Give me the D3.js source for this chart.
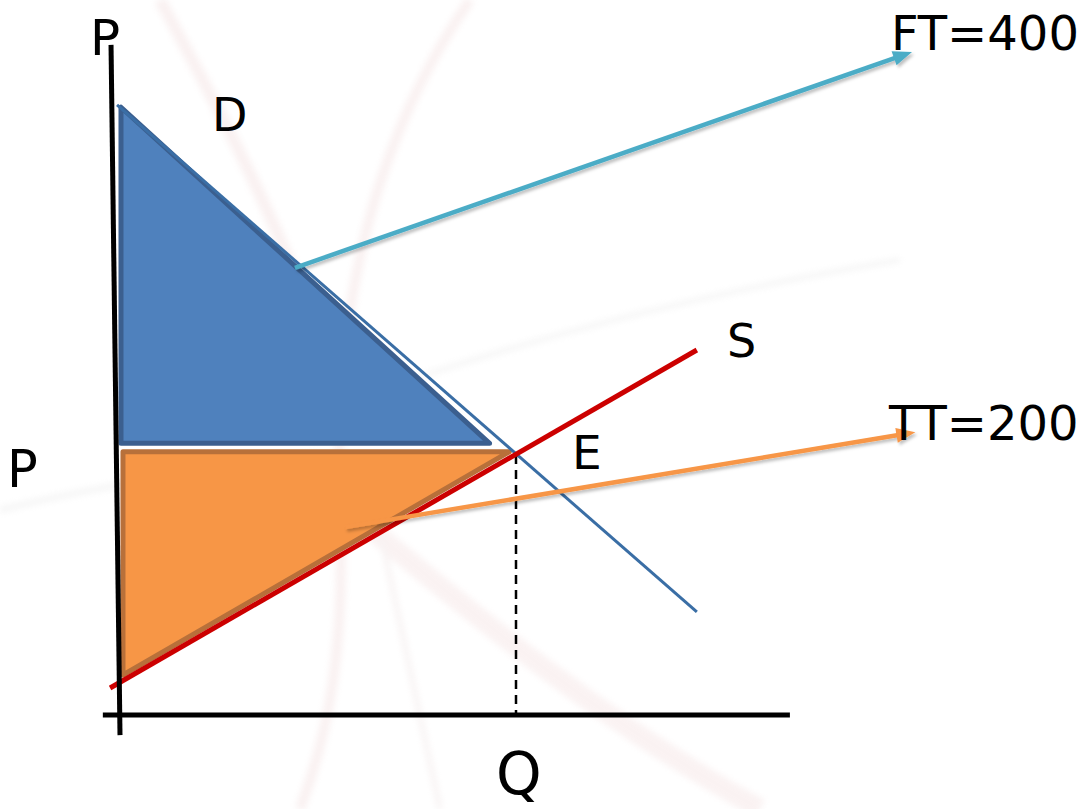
<!DOCTYPE html>
<html>
<head>
<meta charset="utf-8">
<script src="https://cdn.jsdelivr.net/npm/d3@7"></script>
<style>
  html, body { margin: 0; padding: 0; background: #fff; }
  svg { display: block; font-family: "DejaVu Sans", Verdana, sans-serif; }
</style>
</head>
<body>
<div id="chart"></div>
<script>
// quantity / price units (0..10 on both axes)
const xAxisLine = [[-0.26, 0], [10.15, 0]];
const yAxisLine = [[-0.136, 10.31], [0, -0.31]];
const demand = [[-0.045, 9.385], [8.74, 1.585]];
const supply = [[-0.15, 0.415], [8.74, 5.615]];
const equilibrium = [6.0, 4.0];
const consumerSurplus = [[0.015, 9.35], [0.015, 4.18], [5.6, 4.18]];
const producerSurplus = [[0.045, 4.05], [5.9, 4.05], [0.045, 0.615]];
const ftArrow = [[2.65, 6.88], [12.0, 10.2]];
const ttArrow = [[3.41, 2.89], [12.05, 4.35]];
const labels = ["P", "D", "S", "P", "E", "Q", "FT=400", "TT=200"];

function drawSurplus(targetId) {
    const width = 1085, height = 809;

    const svg = d3.select(`#${targetId}`).append("svg")
        .attr("width", width)
        .attr("height", height);

    const x = d3.scaleLinear().domain([0, 10]).range([120, 780]);
    const y = d3.scaleLinear().domain([0, 10]).range([715, 65]);

    const defs = svg.append("defs");
    const shadow = defs.append("filter").attr("id", "shadow")
        .attr("x", "-10%").attr("y", "-10%").attr("width", "120%").attr("height", "130%");
    shadow.append("feDropShadow")
        .attr("dx", 2).attr("dy", 2.5).attr("stdDeviation", 1.5)
        .attr("flood-color", "#000").attr("flood-opacity", 0.25);
    defs.append("filter").attr("id", "blur")
        .append("feGaussianBlur").attr("stdDeviation", 3);

    // faint watermark behind the chart
    const wm = svg.append("g").attr("fill", "none").attr("filter", "url(#blur)").attr("opacity", 0.35);
    wm.append("path").attr("d", "M160,0 C230,130 300,260 345,420")
        .attr("stroke", "#f0d8d8").attr("stroke-width", 12);
    wm.append("path").attr("d", "M470,0 C380,130 330,300 340,520 C345,640 330,730 300,809")
        .attr("stroke", "#f0d8d8").attr("stroke-width", 10);
    wm.append("path").attr("d", "M360,520 C480,620 600,720 760,809")
        .attr("stroke", "#f2dcdc").attr("stroke-width", 20);
    wm.append("path").attr("d", "M410,380 C560,330 720,290 900,260")
        .attr("stroke", "#e4e4e4").attr("stroke-width", 5);
    wm.append("path").attr("d", "M0,510 C80,490 200,470 320,455")
        .attr("stroke", "#e4e4e4").attr("stroke-width", 6);
    wm.append("path").attr("d", "M380,530 C400,620 420,720 440,809")
        .attr("stroke", "#eadcdc").attr("stroke-width", 5);

    const line = d3.line().x(d => x(d[0])).y(d => y(d[1]));

    // surplus triangles
    svg.append("path")
        .datum(consumerSurplus)
        .attr("d", d => line(d) + "Z")
        .attr("fill", "#4f81bd")
        .attr("stroke", "#3b5f8f")
        .attr("stroke-width", 5)
        .attr("stroke-linejoin", "round");

    svg.append("path")
        .datum(producerSurplus)
        .attr("d", d => line(d) + "Z")
        .attr("fill", "#f79646")
        .attr("stroke", "#b8703a")
        .attr("stroke-width", 5)
        .attr("stroke-linejoin", "round");

    // demand curve
    svg.append("path")
        .datum(demand)
        .attr("d", line)
        .attr("fill", "none")
        .attr("stroke", "#3a6ea5")
        .attr("stroke-width", 3);

    // dashed drop line from E
    svg.append("line")
        .attr("x1", x(equilibrium[0])).attr("y1", y(equilibrium[1]))
        .attr("x2", x(equilibrium[0])).attr("y2", y(0))
        .attr("stroke", "#000")
        .attr("stroke-width", 2.5)
        .attr("stroke-dasharray", "9,6");

    // supply curve
    svg.append("path")
        .datum(supply)
        .attr("d", line)
        .attr("fill", "none")
        .attr("stroke", "#cc0000")
        .attr("stroke-width", 5);

    // axes
    svg.append("path")
        .datum(yAxisLine)
        .attr("d", line)
        .attr("stroke", "#000")
        .attr("stroke-width", 5);
    svg.append("path")
        .datum(xAxisLine)
        .attr("d", line)
        .attr("stroke", "#000")
        .attr("stroke-width", 5);

    // arrows pointing to the labels
    function arrow(pts, color) {
        const x0 = x(pts[0][0]), y0 = y(pts[0][1]);
        const x1 = x(pts[1][0]), y1 = y(pts[1][1]);
        const ang = Math.atan2(y1 - y0, x1 - x0);
        const len = 19, half = 7.5;
        const bx = x1 - len * Math.cos(ang), by = y1 - len * Math.sin(ang);
        const g = svg.append("g").attr("filter", "url(#shadow)");
        g.append("line")
            .attr("x1", x0).attr("y1", y0)
            .attr("x2", bx + 2 * Math.cos(ang)).attr("y2", by + 2 * Math.sin(ang))
            .attr("stroke", color)
            .attr("stroke-width", 4.5);
        g.append("path")
            .attr("d", `M${x1},${y1}L${bx - half * Math.sin(ang)},${by + half * Math.cos(ang)}L${bx + half * Math.sin(ang)},${by - half * Math.cos(ang)}Z`)
            .attr("fill", color);
    }
    arrow(ftArrow, "#4bacc6");
    arrow(ttArrow, "#f79646");

    // text labels
    const spots = [
        { x: 90, y: 55, size: 50 },
        { x: 212, y: 131, size: 46 },
        { x: 727, y: 357, size: 46 },
        { x: 7, y: 487, size: 51 },
        { x: 572, y: 469, size: 47 },
        { x: 496, y: 794, size: 58 },
        { x: 891, y: 50, size: 48 },
        { x: 889, y: 440, size: 48 }
    ];
    svg.selectAll(".lbl")
        .data(labels)
        .enter()
        .append("text")
        .attr("class", "lbl")
        .attr("x", (d, i) => spots[i].x)
        .attr("y", (d, i) => spots[i].y)
        .attr("font-size", (d, i) => spots[i].size)
        .attr("fill", "#000")
        .text(d => d);
}

drawSurplus("chart");
</script>
</body>
</html>
